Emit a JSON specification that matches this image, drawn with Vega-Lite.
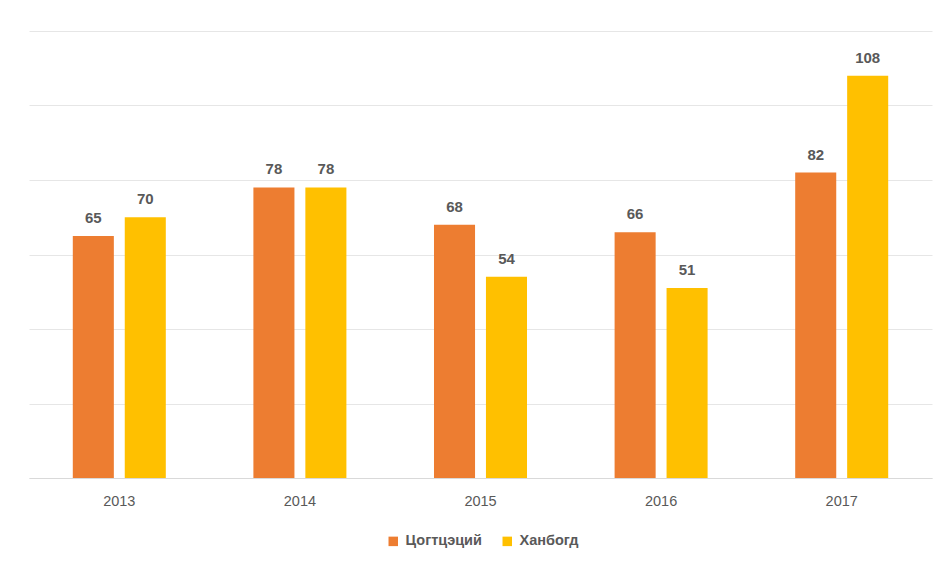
{
  "$schema": "https://vega.github.io/schema/vega-lite/v6.json",
  "width": 903,
  "height": 447,
  "autosize": {"type": "none"},
  "padding": {"left": 29, "top": 31, "right": 12, "bottom": 85},
  "background": "white",
  "config": {
    "view": {"stroke": null},
    "font": "Liberation Sans"
  },
  "data": {
    "values": [
      {"year": "2013", "series": "Цогтцэций", "value": 65},
      {"year": "2013", "series": "Ханбогд", "value": 70},
      {"year": "2014", "series": "Цогтцэций", "value": 78},
      {"year": "2014", "series": "Ханбогд", "value": 78},
      {"year": "2015", "series": "Цогтцэций", "value": 68},
      {"year": "2015", "series": "Ханбогд", "value": 54},
      {"year": "2016", "series": "Цогтцэций", "value": 66},
      {"year": "2016", "series": "Ханбогд", "value": 51},
      {"year": "2017", "series": "Цогтцэций", "value": 82},
      {"year": "2017", "series": "Ханбогд", "value": 108}
    ]
  },
  "encoding": {
    "x": {
      "field": "year", "type": "nominal",
      "scale": {"paddingInner": 0.485, "paddingOuter": 0.2425},
      "axis": {
        "title": null, "labelAngle": 0, "ticks": false,
        "domainColor": "#d9d9d9", "labelColor": "#595959",
        "labelFontSize": 14.5, "labelPadding": 16
      }
    },
    "xOffset": {
      "field": "series", "type": "nominal",
      "sort": ["Цогтцэций", "Ханбогд"],
      "scale": {"paddingInner": 0.21, "paddingOuter": 0}
    },
    "y": {
      "field": "value", "type": "quantitative",
      "scale": {"domain": [0, 120], "nice": false},
      "axis": {
        "title": null, "labels": false, "ticks": false, "domain": false,
        "values": [0, 20, 40, 60, 80, 100, 120],
        "gridColor": "#e6e6e6", "gridWidth": 1
      }
    }
  },
  "layer": [
    {
      "mark": {"type": "bar"},
      "encoding": {
        "color": {
          "field": "series", "type": "nominal",
          "sort": ["Цогтцэций", "Ханбогд"],
          "scale": {"domain": ["Цогтцэций", "Ханбогд"], "range": ["#ED7D31", "#FFC000"]},
          "legend": {
            "title": null, "orient": "none", "direction": "horizontal",
            "legendX": 357, "legendY": 503,
            "symbolType": "square", "symbolSize": 90, "symbolStrokeWidth": 0,
            "labelColor": "#595959", "labelFontSize": 14.5, "labelFontWeight": "bold",
            "columnPadding": 18, "labelOffset": 5
          }
        }
      }
    },
    {
      "mark": {"type": "text", "baseline": "bottom", "dy": -10, "fontSize": 15, "fontWeight": "bold", "color": "#595959"},
      "encoding": {
        "text": {"field": "value", "type": "quantitative"}
      }
    }
  ]
}
